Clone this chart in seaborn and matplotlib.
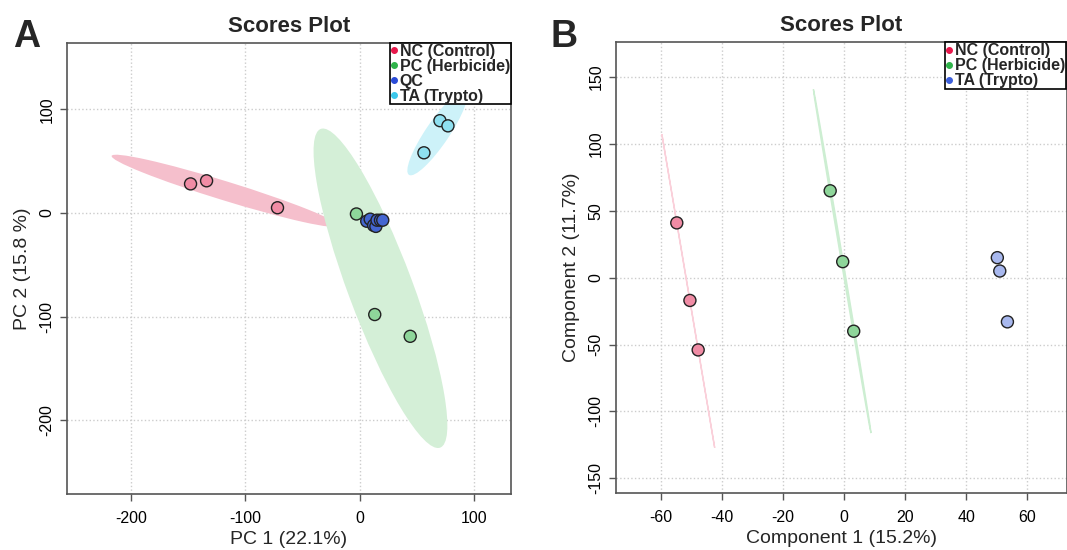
import numpy as np
import pandas as pd
import matplotlib
matplotlib.use('Agg')
import matplotlib.pyplot as plt
from matplotlib.patches import Ellipse
from matplotlib.lines import Line2D
import seaborn as sns

# Panel A - PCA scores
groups_a = ['NC (Control)', 'PC (Herbicide)', 'QC', 'TA (Trypto)']
nc_a_x = [-148, -134, -72]
nc_a_y = [28, 31, 5]
pc_a_x = [-3, 13, 44]
pc_a_y = [-1, -98, -119]
qc_a_x = [6, 9, 12, 14, 15, 18, 20]
qc_a_y = [-8, -6, -12, -13, -7, -7, -7]
ta_a_x = [56, 70, 77]
ta_a_y = [58, 89, 84]

# Panel B - PLS-DA scores
groups_b = ['NC (Control)', 'PC (Herbicide)', 'TA (Trypto)']
nc_b_x = [-54.7, -50.4, -47.7]
nc_b_y = [41, -17, -54]
pc_b_x = [-4.5, -0.4, 3.2]
pc_b_y = [65, 12, -40]
ta_b_x = [50.2, 51.0, 53.5]
ta_b_y = [15, 5, -33]

sns.set_theme(style='ticks')
plt.rcParams['font.family'] = ['Liberation Sans', 'DejaVu Sans']
plt.rcParams['axes.unicode_minus'] = False

legend_col_a = ['#E8174B', '#2FB34A', '#2A4BD7', '#3CC8EC']
fill_col_a = ['#F08CA5', '#8ED69A', '#4466D0', '#8EE0F0']
ell_col_a = ['#F5BFCC', '#D4EFD7', None, '#CDF2F9']

legend_col_b = ['#E8174B', '#2FB34A', '#3C5FDC']
fill_col_b = ['#F08CA5', '#8ED69A', '#A8B8EE']
ell_col_b = ['#FAD0DA', '#CDEED2', None]


def conf_ellipse(ax, x, y, color, lw=0):
    cov = np.cov(x, y)
    vals, vecs = np.linalg.eigh(cov)
    order = vals.argsort()[::-1]
    vals, vecs = vals[order], vecs[:, order]
    t = np.sqrt(-2 * np.log(0.05))
    angle = np.degrees(np.arctan2(vecs[1, 0], vecs[0, 0]))
    w, h = 2 * t * np.sqrt(np.maximum(vals, 0))
    ax.add_patch(Ellipse((np.mean(x), np.mean(y)), w, h, angle=angle,
                         facecolor=color, edgecolor=color, lw=lw, zorder=1))


def style_axes(ax, xlabel, ylabel):
    ax.grid(True, ls=':', color='#cccccc', lw=1)
    ax.set_axisbelow(True)
    for s in ax.spines.values():
        s.set_color('#555555')
        s.set_linewidth(1.2)
    ax.tick_params(axis='both', direction='out', length=5, width=1,
                   color='#555555', labelsize=11.5, labelcolor='black')
    ax.tick_params(axis='x', pad=7)
    ax.tick_params(axis='y', labelrotation=90, pad=4)
    for lab in ax.get_yticklabels():
        lab.set_va('center')
    ax.set_xlabel(xlabel, fontsize=14, labelpad=4)
    ax.set_ylabel(ylabel, fontsize=14, labelpad=6)
    ax.set_title('Scores Plot', fontsize=16, fontweight='bold', pad=8)


def add_legend(ax, labels, colors, anchor, loc):
    handles = [Line2D([], [], marker='o', ls='', color=c, markersize=4)
               for c in colors]
    leg = ax.legend(handles, labels, loc=loc, bbox_to_anchor=anchor,
                    frameon=True, fancybox=False, framealpha=1,
                    edgecolor='black', borderpad=0.05, labelspacing=0.0,
                    handlelength=0.4, handletextpad=0.15, borderaxespad=0,
                    prop={'weight': 'bold', 'size': 11.5})
    leg.get_frame().set_linewidth(1.2)
    leg.set_zorder(10)


fig = plt.figure(figsize=(10.67, 5.5), dpi=100)
ax_a = fig.add_axes([0.0628, 0.102, 0.416, 0.820])
ax_b = fig.add_axes([0.5773, 0.1036, 0.4227, 0.8194])

# ---- Panel A ----
df_a = pd.DataFrame({
    'x': nc_a_x + pc_a_x + qc_a_x + ta_a_x,
    'y': nc_a_y + pc_a_y + qc_a_y + ta_a_y,
    'group': [groups_a[0]] * len(nc_a_x) + [groups_a[1]] * len(pc_a_x)
    + [groups_a[2]] * len(qc_a_x) + [groups_a[3]] * len(ta_a_x),
})
for (gx, gy), col in zip([(nc_a_x, nc_a_y), (pc_a_x, pc_a_y),
                          (qc_a_x, qc_a_y), (ta_a_x, ta_a_y)], ell_col_a):
    if col is not None:
        conf_ellipse(ax_a, gx, gy, col)
sns.scatterplot(data=df_a, x='x', y='y', hue='group', hue_order=groups_a,
                palette=fill_col_a, s=75, edgecolor='#222222', linewidth=1,
                legend=False, zorder=3, ax=ax_a)
ax_a.set_xlim(-256, 132)
ax_a.set_ylim(-271, 164)
ax_a.set_xticks([-200, -100, 0, 100])
ax_a.set_yticks([-200, -100, 0, 100])
style_axes(ax_a, 'PC 1 (22.1%)', 'PC 2 (15.8 %)')
add_legend(ax_a, groups_a, legend_col_a, (1.0, 1.0), 'upper right')

# ---- Panel B ----
df_b = pd.DataFrame({
    'x': nc_b_x + pc_b_x + ta_b_x,
    'y': nc_b_y + pc_b_y + ta_b_y,
    'group': [groups_b[0]] * len(nc_b_x) + [groups_b[1]] * len(pc_b_x)
    + [groups_b[2]] * len(ta_b_x),
})
for (gx, gy), col in zip([(nc_b_x, nc_b_y), (pc_b_x, pc_b_y),
                          (ta_b_x, ta_b_y)], ell_col_b):
    if col is not None:
        conf_ellipse(ax_b, gx, gy, col, lw=1.0)
sns.scatterplot(data=df_b, x='x', y='y', hue='group', hue_order=groups_b,
                palette=fill_col_b, s=75, edgecolor='#222222', linewidth=1,
                legend=False, zorder=3, ax=ax_b)
ax_b.set_xlim(-74.6, 73)
ax_b.set_ylim(-161, 176)
ax_b.set_xticks([-60, -40, -20, 0, 20, 40, 60])
ax_b.set_yticks([-150, -100, -50, 0, 50, 100, 150])
style_axes(ax_b, 'Component 1 (15.2%)', 'Component 2 (11.7%)')
add_legend(ax_b, groups_b, legend_col_b, (0.73, 1.0), 'upper left')

# panel letters
fig.text(0.012, 0.965, 'A', fontsize=27, fontweight='bold', va='top')
fig.text(0.516, 0.965, 'B', fontsize=27, fontweight='bold', va='top')

fig.savefig('out.png', dpi=100)
